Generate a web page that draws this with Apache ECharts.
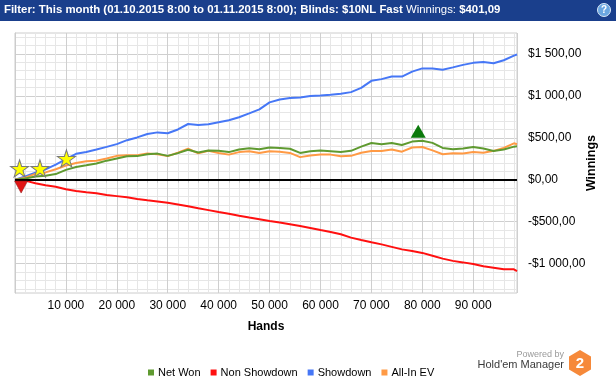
<!DOCTYPE html>
<html><head><meta charset="utf-8">
<script src="https://cdn.jsdelivr.net/npm/echarts@6/dist/echarts.min.js"></script>
<style>html,body{margin:0;padding:0;background:#fff}#c{width:616px;height:380px}</style>
</head><body><div id="c"></div>
<script>
// ---- data (hands, cumulative $) ----
const hands = [0,2000,4000,6000,8000,10000,12000,14000,16000,18000,20000,22000,24000,26000,28000,30000,32000,34000,36000,38000,40000,42000,44000,46000,48000,50000,52000,54000,56000,58000,60000,62000,64000,66000,68000,70000,72000,74000,76000,78000,80000,82000,84000,86000,88000,90000,92000,94000,96000,98000,98600];
const showdown = [0,40,85,125,180,245,310,332,360,392,425,472,505,545,565,555,600,665,652,661,685,709,745,792,840,923,958,975,982,1000,1006,1015,1026,1045,1095,1180,1200,1232,1230,1290,1328,1326,1311,1340,1370,1394,1405,1390,1425,1480,1493];
const nonShowdown = [0,-10,-42,-66,-84,-112,-135,-148,-160,-182,-195,-208,-228,-245,-258,-275,-295,-315,-340,-362,-385,-405,-428,-450,-470,-492,-510,-530,-552,-575,-600,-622,-650,-690,-718,-745,-770,-800,-830,-850,-872,-905,-940,-967,-985,-1005,-1032,-1048,-1066,-1068,-1088];
const netWon = [0,15,38,48,68,118,152,172,194,228,254,280,282,305,312,285,318,358,325,350,345,330,360,375,365,385,380,370,320,340,350,340,330,345,395,438,424,438,415,455,465,440,380,365,373,390,373,344,360,395,400];
const allInEV = [0,25,70,88,125,170,200,222,226,254,285,293,293,313,305,282,322,370,315,345,320,300,330,340,320,340,335,320,270,290,300,300,280,285,322,344,344,360,335,385,390,350,305,315,313,330,322,345,380,435,424];
const seriesNames = ['Net Won','Non Showdown','Showdown','All-In EV'];
const seriesColors = ['#5f9a30','#ff1010','#4677f6','#ff9a45'];
const starHands = [900,4900,10100];
const starValues = [135,135,254];
const maxMarkHands = [79200];
const maxMarkValues = [578];
const minMarkHands = [1200];
const minMarkValues = [-87];
const filterText = 'Filter: This month (01.10.2015 8:00 to 01.11.2015 8:00); Blinds: $10NL Fast';
const winningsText = '$401,09';

const pairs = (xs, ys) => xs.map((x, i) => [x, ys[i]]);
const fmtMoney = v => {
  const a = Math.abs(v);
  const s = String(a).replace(/\B(?=(\d{3})+(?!\d))/g, ' ');
  return (v < 0 ? '-$' : '$') + s + ',00';
};
const FONT = 'Liberation Sans';
const L = '#e6e6e6', D = '#cfcfcf', T = 'rgba(0,0,0,0)';

const chart = echarts.init(document.getElementById('c'), null, {renderer: 'canvas'});
const lineSeries = (name, data, color, z) => ({
  name, type: 'line', data: pairs(hands, data), showSymbol: false, symbol: 'none',
  lineStyle: {color, width: 2}, itemStyle: {color}, z, animation: false, silent: true
});
const starPath = 'path://M50,0 L61,35 L98,35 L68,57 L79,91 L50,70 L21,91 L32,57 L2,35 L39,35 Z';

const option = {
  animation: false,
  backgroundColor: '#ffffff',
  grid: {left: 15, right: 99, top: 33, bottom: 87, show: true, borderColor: '#cccccc', borderWidth: 1, backgroundColor: 'transparent'},
  xAxis: {
    type: 'value', min: 0, max: 98600, interval: 2000,
    name: 'Hands', nameLocation: 'middle', nameGap: 28,
    nameTextStyle: {fontFamily: FONT, fontWeight: 'bold', fontSize: 12, color: '#000'},
    axisLine: {show: true, lineStyle: {color: '#cccccc'}},
    axisTick: {show: true, length: 3, lineStyle: {color: '#cccccc'}},
    axisLabel: {margin: 7, fontFamily: FONT, fontSize: 12, color: '#000', showMaxLabel: false, showMinLabel: false,
      formatter: v => (v > 0 && v % 10000 === 0) ? String(v).replace(/\B(?=(\d{3})+(?!\d))/g, ' ') : ''},
    splitLine: {show: true, lineStyle: {color: [D, L, L, L, L], width: 1}}
  },
  yAxis: {
    type: 'value', position: 'right', min: -1350, max: 1750, interval: 50,
    name: 'Winnings', nameLocation: 'middle', nameRotate: 90, nameGap: 68, nameMoveOverlap: false,
    nameTextStyle: {fontFamily: FONT, fontWeight: 'bold', fontSize: 12.5, color: '#000'},
    axisLine: {show: true, lineStyle: {color: '#cccccc'}},
    axisTick: {show: false},
    axisLabel: {margin: 11, fontFamily: FONT, fontSize: 12, color: '#000',
      formatter: v => (v % 500 === 0) ? fmtMoney(v) : ''},
    splitLine: {show: true, lineStyle: {color: [T, L, T, L, T, L, T, D, T, L], width: 1}}
  },
  legend: {
    data: seriesNames, left: 143, top: 362, icon: 'rect', itemWidth: 6, itemHeight: 6, itemGap: 10,
    textStyle: {fontFamily: FONT, fontSize: 11, color: '#000', padding: [0, 0, 0, -1]}, selectedMode: false
  },
  series: [
    lineSeries('Showdown', showdown, seriesColors[2], 2),
    lineSeries('Non Showdown', nonShowdown, seriesColors[1], 2),
    lineSeries('All-In EV', allInEV, seriesColors[3], 3),
    Object.assign(lineSeries('Net Won', netWon, seriesColors[0], 4), {
      markLine: {silent: true, symbol: 'none', label: {show: false}, animation: false,
        lineStyle: {color: '#000', width: 2, type: 'solid'}, data: [{yAxis: 0}]}
    }),
    {type: 'scatter', name: 'stars', data: pairs(starHands, starValues), symbol: starPath, symbolSize: [18, 17],
      itemStyle: {color: '#ffff00', borderColor: '#7a7a7a', borderWidth: 1, opacity: 1}, z: 8, silent: true},
    {type: 'scatter', name: 'max', data: pairs(maxMarkHands, maxMarkValues), symbol: 'triangle', symbolSize: [15, 13],
      itemStyle: {color: '#0c7a0c', opacity: 1}, z: 8, silent: true},
    {type: 'scatter', name: 'min', data: pairs(minMarkHands, minMarkValues), symbol: 'triangle', symbolRotate: 180, symbolSize: [13, 12],
      itemStyle: {color: '#e01515', borderColor: '#8a1010', borderWidth: 0.5, opacity: 1}, z: 8, silent: true}
  ],
  graphic: [
    {type: 'rect', left: 0, top: 0, shape: {width: 616, height: 21}, style: {fill: '#1a3f8c'}, z: 10},
    {type: 'text', left: 4, top: 4, z: 11, style: {
      text: '{b|' + filterText + '}{n| Winnings: }{b|' + winningsText + '}',
      rich: {b: {fontFamily: FONT, fontWeight: 'bold', fontSize: 11.4, fill: '#fff'},
             n: {fontFamily: FONT, fontSize: 11.4, fill: '#fff'}}}},
    {type: 'circle', shape: {cx: 604, cy: 10, r: 6.5}, style: {fill: '#6aa6e0', stroke: '#dbe9f7', lineWidth: 1}, z: 11},
    {type: 'text', x: 604, y: 10.5, z: 12, style: {text: '?', fontFamily: FONT, fontWeight: 'bold', fontSize: 10, fill: '#fff', align: 'center', verticalAlign: 'middle'}},
    {type: 'text', x: 564, y: 354.5, z: 11, style: {text: 'Powered by', fontFamily: FONT, fontSize: 9, fill: '#9a9a9a', align: 'right', verticalAlign: 'middle'}},
    {type: 'text', x: 564, y: 364.5, z: 11, style: {text: "Hold'em Manager", fontFamily: FONT, fontSize: 11, fill: '#3a3a3a', align: 'right', verticalAlign: 'middle'}},
    {type: 'polygon', z: 11, shape: {points: [[580, 350], [591, 356.5], [591, 369.5], [580, 376], [569, 369.5], [569, 356.5]]},
      style: {fill: '#f6893a'}},
    {type: 'text', x: 580, y: 363.5, z: 12, style: {text: '2', fontFamily: FONT, fontWeight: 'bold', fontSize: 15, fill: '#fff', align: 'center', verticalAlign: 'middle'}}
  ]
};
chart.setOption(option);
</script>
</body></html>
